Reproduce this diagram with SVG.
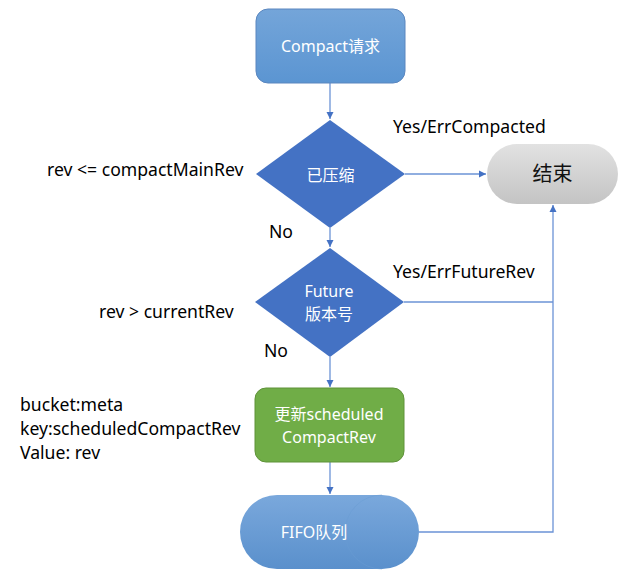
<svg xmlns="http://www.w3.org/2000/svg" width="632" height="578" viewBox="0 0 632 578">
<style>
.lbl{font-family:"Noto Sans","Noto Sans CJK SC",sans-serif;font-size:17.6px;fill:#000}
.wt{font-family:"Noto Sans","Noto Sans CJK SC",sans-serif;font-size:16px;fill:#fff;text-anchor:middle}
.ln{fill:none;stroke:#6b93d6;stroke-width:1.3}
</style>
<defs>
<linearGradient id="gBlue" x1="0" y1="0" x2="0" y2="1"><stop offset="0" stop-color="#74a5d9"/><stop offset="1" stop-color="#5b95d2"/></linearGradient>
<linearGradient id="gGray" x1="0" y1="0" x2="0" y2="1"><stop offset="0" stop-color="#e2e2e2"/><stop offset="1" stop-color="#c4c4c4"/></linearGradient>
<linearGradient id="gFifo" x1="0" y1="0" x2="0" y2="1"><stop offset="0" stop-color="#7aa8dc"/><stop offset="1" stop-color="#5a90cc"/></linearGradient>
<marker id="ar" markerWidth="8" markerHeight="8" refX="7" refY="4" orient="auto" markerUnits="userSpaceOnUse"><path d="M0,0.5 L7,4 L0,7.5 Z" fill="#4472c4"/></marker>
</defs>
<g id="connectors">
<path class="ln" d="M330,83 V119" marker-end="url(#ar)"/>
<path class="ln" d="M330,228 V247" marker-end="url(#ar)"/>
<path class="ln" d="M330,357 V387" marker-end="url(#ar)"/>
<path class="ln" d="M330,462 V494" marker-end="url(#ar)"/>
<path class="ln" d="M405,174 H486" marker-end="url(#ar)"/>
<path class="ln" d="M404,302 H553"/>
<path class="ln" d="M419,532 H553 V205" marker-end="url(#ar)"/>
</g>
<g id="compact">
<rect x="256" y="9" width="149" height="74" rx="12" fill="url(#gBlue)" stroke="#5a86bf" stroke-width="1"/>
<text class="wt" x="330.5" y="52" font-size="16.5">Compact请求</text>
</g>
<g id="compacted">
<polygon points="330,120 405,174 330,228 256,174" fill="#4472c4"/>
<text class="wt" x="330.5" y="181" font-size="18">已压缩</text>
</g>
<g id="end">
<rect x="487" y="144" width="131" height="60" rx="30" fill="url(#gGray)"/>
<text x="552.5" y="181" text-anchor="middle" style="font-family:'Noto Sans CJK SC',sans-serif;font-size:20px;fill:#111">结束</text>
</g>
<g id="future">
<polygon points="330,248 404,302 330,357 255,302" fill="#4472c4"/>
<text class="wt" x="329" y="297">Future</text>
<text class="wt" x="329" y="320" font-size="18">版本号</text>
</g>
<g id="update">
<rect x="255" y="388" width="149" height="74" rx="11" fill="#70ad47" stroke="#5f9239" stroke-width="1"/>
<text class="wt" x="329" y="420">更新scheduled</text>
<text class="wt" x="329" y="443">CompactRev</text>
</g>
<g id="fifo">
<rect x="240" y="495" width="179" height="74" rx="37" fill="url(#gFifo)"/>
<path d="M382,495 A37,37 0 0 0 382,569" fill="none" stroke="#6a9bd3" stroke-width="0.8" opacity="0.6"/>
<text class="wt" x="314" y="538" font-size="17">FIFO队列</text>
</g>
<g id="labels">
<text class="lbl" x="393" y="133">Yes/ErrCompacted</text>
<text class="lbl" x="47" y="176">rev &lt;= compactMainRev</text>
<text class="lbl" x="269" y="238">No</text>
<text class="lbl" x="393" y="278">Yes/ErrFutureRev</text>
<text class="lbl" x="99" y="318">rev &gt; currentRev</text>
<text class="lbl" x="264" y="357">No</text>
<text class="lbl" x="20" y="411">bucket:meta</text>
<text class="lbl" x="20" y="435">key:scheduledCompactRev</text>
<text class="lbl" x="20" y="459">Value: rev</text>
</g>
</svg>
